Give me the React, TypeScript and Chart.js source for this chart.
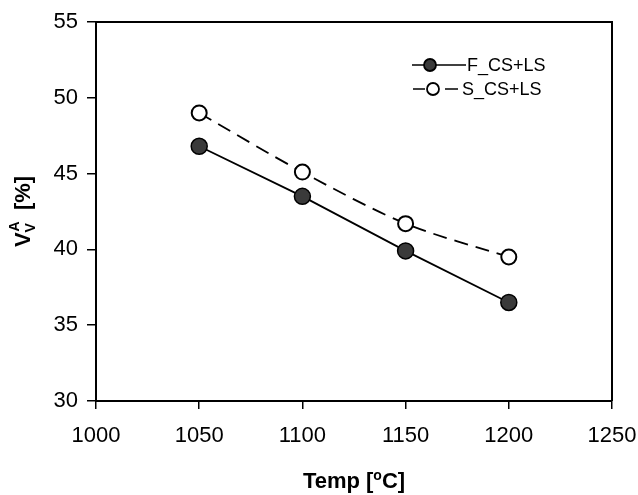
import React, { useEffect, useRef } from "react";
import { Chart, registerables } from "chart.js";

Chart.register(...registerables);

const temps = [1050, 1100, 1150, 1200];
const fSeries = [46.8, 43.5, 39.9, 36.5];
const sSeries = [49.0, 45.1, 41.7, 39.5];
const fLabel = "F_CS+LS";
const sLabel = "S_CS+LS";

const FONT = "'Liberation Sans', Arial, sans-serif";

export default function App() {
  const ref = useRef<HTMLCanvasElement | null>(null);

  useEffect(() => {
    const canvas = ref.current;
    if (!canvas) return;

    const framePlugin = {
      id: "frame",
      afterDraw(chart: any) {
        const { ctx, chartArea: a } = chart;
        ctx.save();
        ctx.strokeStyle = "#000";
        ctx.lineWidth = 2;
        ctx.beginPath();
        ctx.moveTo(a.left, a.top);
        ctx.lineTo(a.right, a.top);
        ctx.lineTo(a.right, a.bottom);
        ctx.stroke();

        // legend
        const drawEntry = (y: number, dashed: boolean, filled: boolean, text: string) => {
          ctx.lineWidth = 1.5;
          ctx.strokeStyle = "#000";
          if (dashed) {
            ctx.beginPath();
            ctx.moveTo(413, y);
            ctx.lineTo(425, y);
            ctx.moveTo(445, y);
            ctx.lineTo(458, y);
            ctx.stroke();
          } else {
            ctx.beginPath();
            ctx.moveTo(412, y);
            ctx.lineTo(466, y);
            ctx.stroke();
          }
          ctx.beginPath();
          ctx.arc(dashed ? 433 : 430, y, 6, 0, Math.PI * 2);
          ctx.fillStyle = filled ? "#3a3a3a" : "#fff";
          ctx.fill();
          ctx.lineWidth = 1.8;
          ctx.stroke();
          ctx.fillStyle = "#000";
          ctx.font = `18px ${FONT}`;
          ctx.textAlign = "left";
          ctx.textBaseline = "middle";
          ctx.fillText(text, dashed ? 462 : 467, y + 1);
        };
        drawEntry(65, false, true, fLabel);
        drawEntry(89, true, false, sLabel);

        // x title: Temp [°C]
        ctx.fillStyle = "#000";
        ctx.textBaseline = "alphabetic";
        ctx.textAlign = "left";
        const big = `bold 22px ${FONT}`;
        const small = `bold 14px ${FONT}`;
        const p1 = "Temp [";
        const p2 = "o";
        const p3 = "C]";
        ctx.font = big;
        const w1 = ctx.measureText(p1).width;
        const w3 = ctx.measureText(p3).width;
        ctx.font = small;
        const w2 = ctx.measureText(p2).width;
        const total = w1 + w2 + w3;
        const cx = (a.left + a.right) / 2;
        let x = cx - total / 2;
        const by = 488;
        ctx.font = big;
        ctx.fillText(p1, x, by);
        x += w1;
        ctx.font = small;
        ctx.fillText(p2, x, by - 8);
        x += w2;
        ctx.font = big;
        ctx.fillText(p3, x, by);

        // y title: V_V^A [%]
        ctx.save();
        const cy = (a.top + a.bottom) / 2;
        ctx.translate(30, cy);
        ctx.rotate(-Math.PI / 2);
        const q1 = "V";
        const q2 = "V";
        const q3 = "A";
        const q4 = "  [%]";
        ctx.font = big;
        const v1 = ctx.measureText(q1).width;
        const v4 = ctx.measureText(q4).width;
        ctx.font = small;
        const v2 = ctx.measureText(q2).width;
        const v3 = ctx.measureText(q3).width;
        const tot = v1 + Math.max(v2, v3) + v4;
        let xx = -tot / 2;
        ctx.font = big;
        ctx.fillText(q1, xx, 0);
        xx += v1;
        ctx.font = small;
        ctx.fillText(q2, xx, 5);
        ctx.fillText(q3, xx + 1, -11);
        xx += Math.max(v2, v3);
        ctx.font = big;
        ctx.fillText(q4, xx, 0);
        ctx.restore();

        ctx.restore();
      },
    };

    const chart = new Chart(canvas, {
      type: "line",
      data: {
        datasets: [
          {
            label: fLabel,
            data: temps.map((t, i) => ({ x: t, y: fSeries[i] })),
            borderColor: "#000",
            borderWidth: 1.8,
            pointRadius: 8,
            pointBackgroundColor: "#3a3a3a",
            pointBorderColor: "#000",
            pointBorderWidth: 1.5,
            tension: 0,
          },
          {
            label: sLabel,
            data: temps.map((t, i) => ({ x: t, y: sSeries[i] })),
            borderColor: "#000",
            borderWidth: 1.8,
            borderDash: [14, 8],
            pointRadius: 7.5,
            pointBackgroundColor: "#fff",
            pointBorderColor: "#000",
            pointBorderWidth: 2,
            tension: 0.3,
          },
        ],
      },
      options: {
        responsive: false,
        animation: false,
        layout: { padding: { left: 0, right: 26, top: 22, bottom: 0 } },
        plugins: { legend: { display: false }, tooltip: { enabled: false } },
        scales: {
          x: {
            type: "linear",
            min: 1000,
            max: 1250,
            afterFit: (s: any) => {
              s.height = 94;
              s.paddingLeft = 0;
              s.paddingRight = 0;
            },
            ticks: {
              stepSize: 50,
              color: "#000",
              font: { family: FONT, size: 22 },
              padding: 14,
              maxRotation: 0,
              callback: (v: any) => String(v),
            },
            grid: {
              display: true,
              drawOnChartArea: false,
              drawTicks: true,
              tickLength: 8,
              color: "#000",
              lineWidth: 1.5,
            },
            border: { display: true, color: "#000", width: 2 },
          },
          y: {
            type: "linear",
            min: 30,
            max: 55,
            afterFit: (s: any) => {
              s.width = 96;
              s.paddingTop = 0;
              s.paddingBottom = 0;
            },
            ticks: {
              stepSize: 5,
              color: "#000",
              font: { family: FONT, size: 22 },
              padding: 9,
              callback: (v: any) => String(v),
            },
            grid: {
              display: true,
              drawOnChartArea: false,
              drawTicks: true,
              tickLength: 9,
              color: "#000",
              lineWidth: 1.5,
            },
            border: { display: true, color: "#000", width: 2 },
          },
        },
      },
      plugins: [framePlugin],
    } as any);

    return () => chart.destroy();
  }, []);

  return (
    <div style={{ position: "fixed", left: 0, top: 0, width: 638, height: 495, background: "#fff" }}>
      <canvas ref={ref} width={638} height={495} style={{ width: 638, height: 495 }} />
    </div>
  );
}
